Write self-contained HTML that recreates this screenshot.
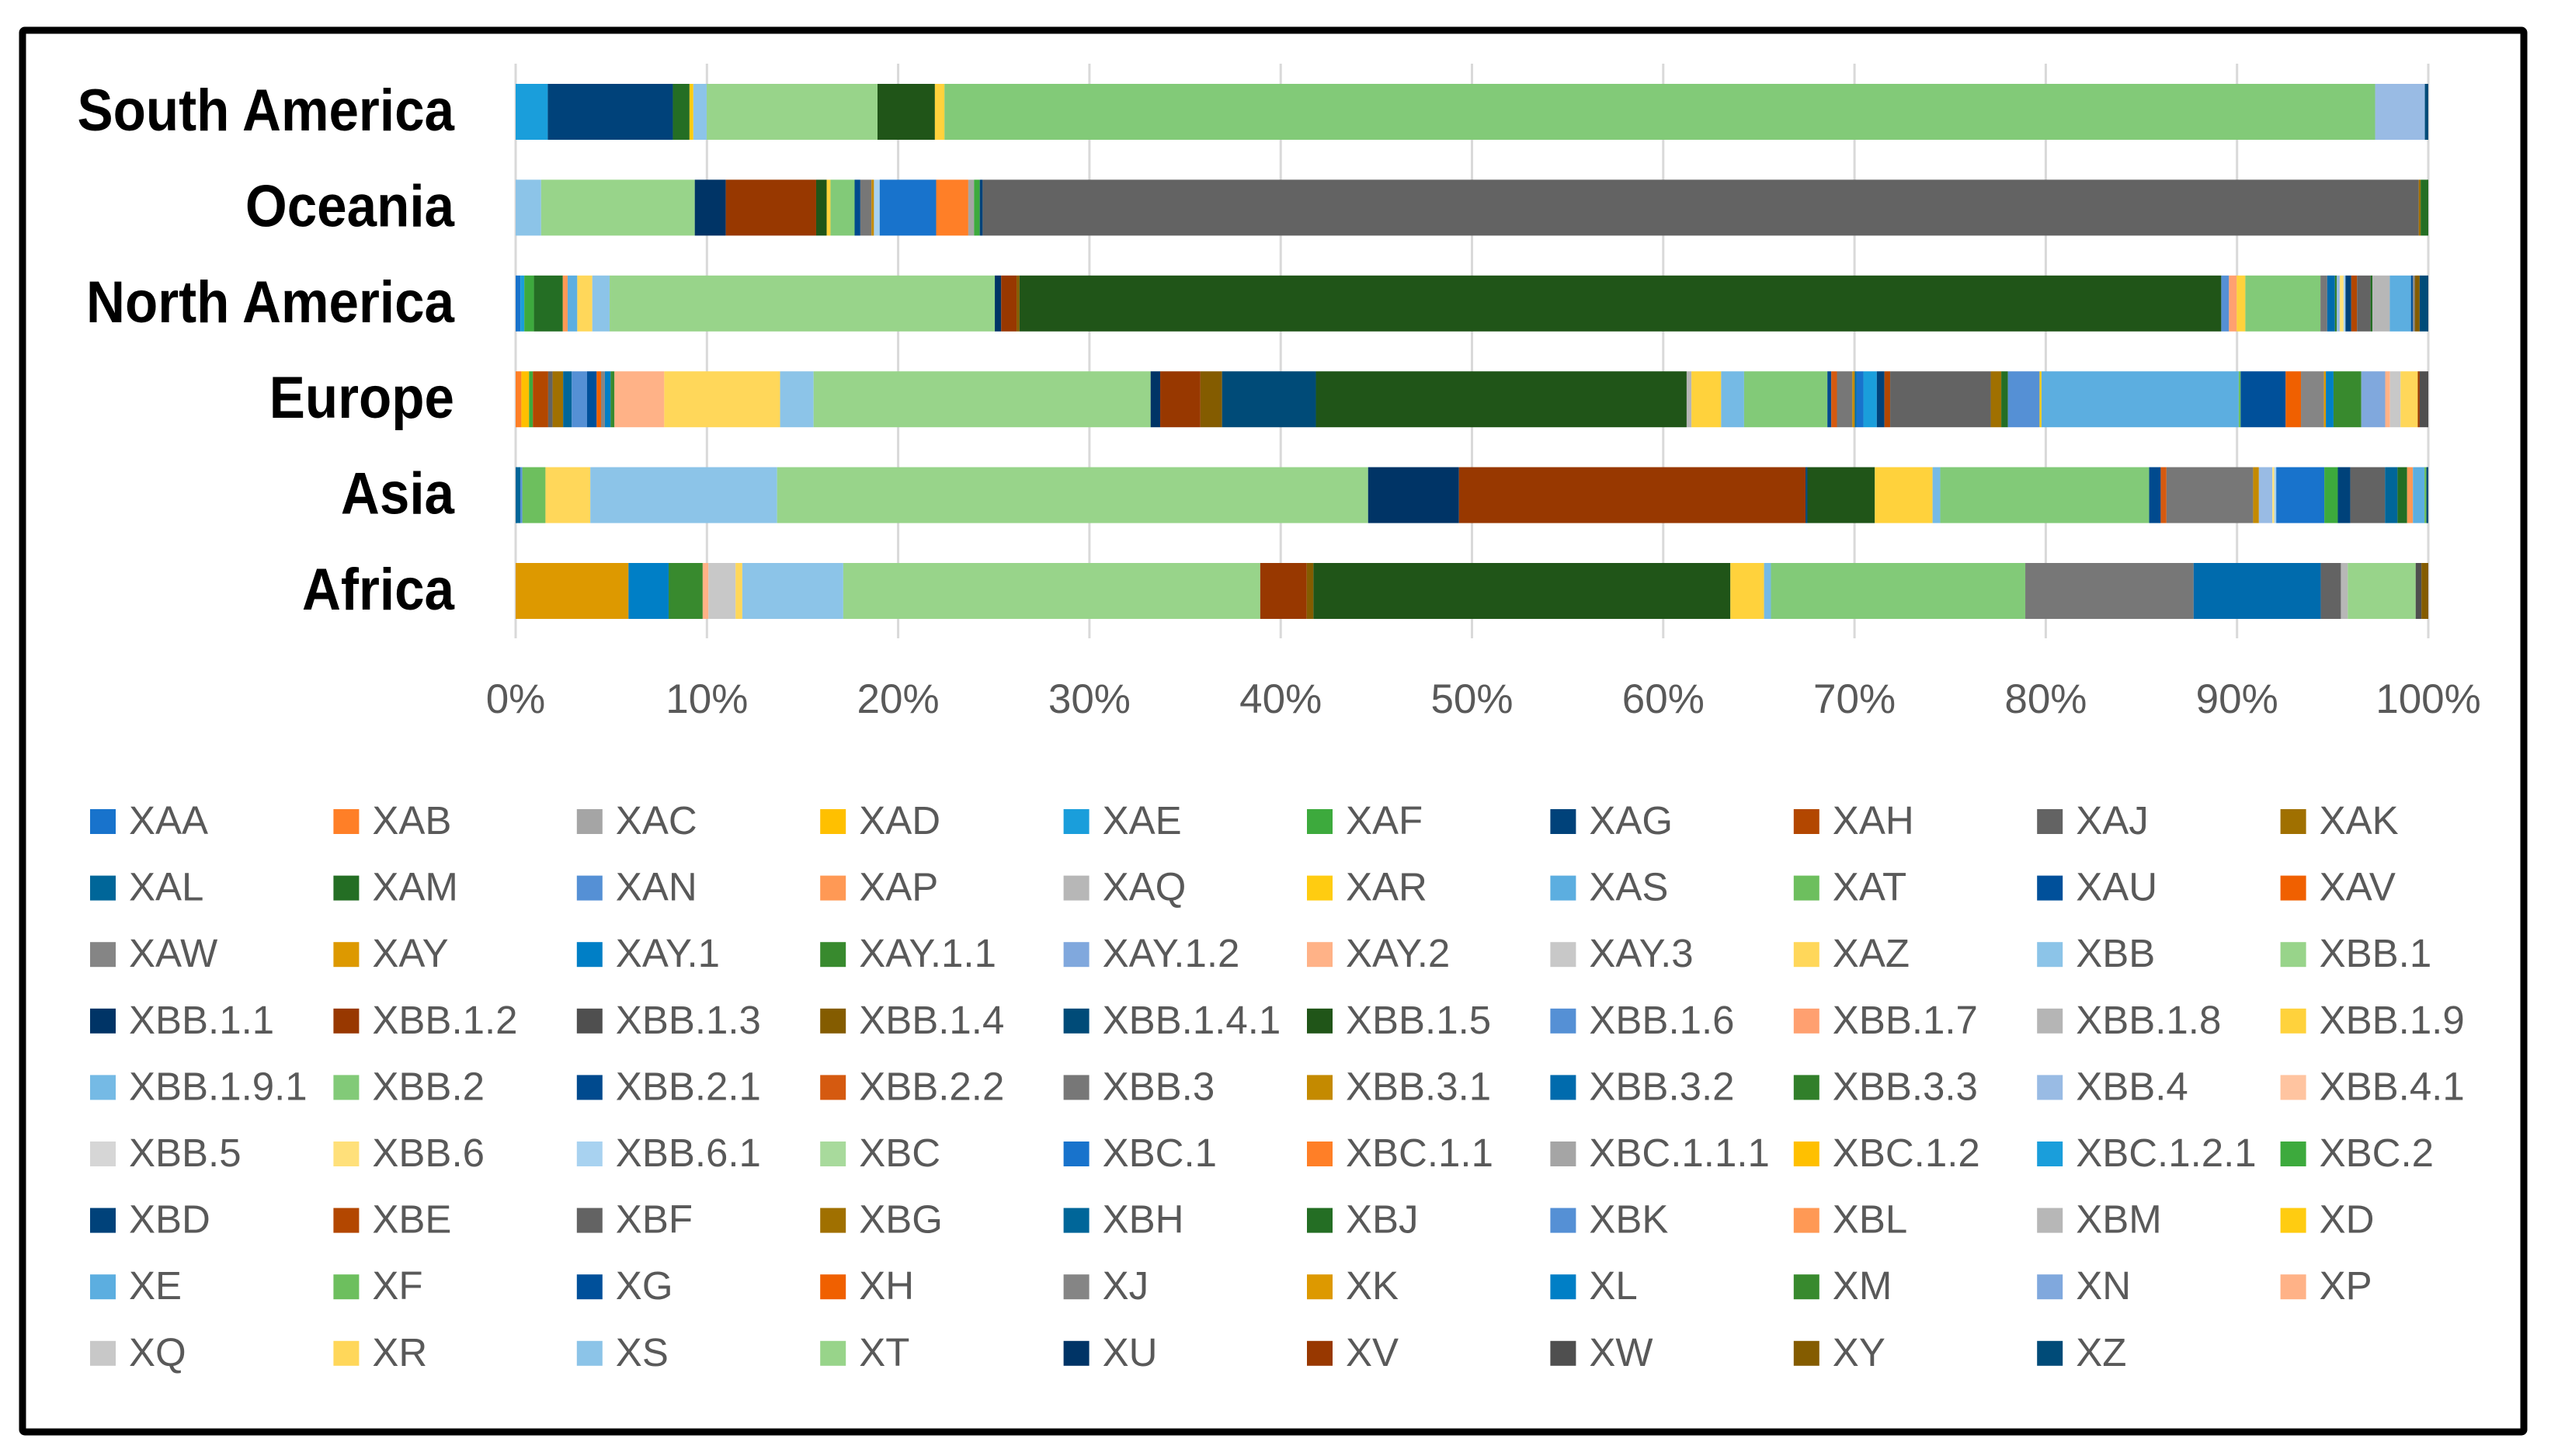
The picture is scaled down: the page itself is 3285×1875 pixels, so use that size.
<!DOCTYPE html>
<html><head><meta charset="utf-8"><style>
html,body{margin:0;padding:0;background:#fff;}
svg{display:block;}
</style></head><body>
<svg id="chart" width="3285" height="1875" viewBox="0 0 3285 1875" xmlns="http://www.w3.org/2000/svg" font-family="'Liberation Sans', sans-serif">
<rect x="0" y="0" width="3285" height="1875" fill="#fff"/>
<rect x="29" y="39" width="3221" height="1805" fill="none" stroke="#000" stroke-width="9" rx="3"/>
<g id="grid"></g>
<g id="bars"></g>
<g id="cats"></g>
<g id="ticks"></g>
<g id="legend"></g>
</svg>
<script>
const categories = ["South America","Oceania","North America","Europe","Asia","Africa"];
const seriesNames = ["XAA","XAB","XAC","XAD","XAE","XAF","XAG","XAH","XAJ","XAK","XAL","XAM","XAN","XAP","XAQ","XAR","XAS","XAT","XAU","XAV","XAW","XAY","XAY.1","XAY.1.1","XAY.1.2","XAY.2","XAY.3","XAZ","XBB","XBB.1","XBB.1.1","XBB.1.2","XBB.1.3","XBB.1.4","XBB.1.4.1","XBB.1.5","XBB.1.6","XBB.1.7","XBB.1.8","XBB.1.9","XBB.1.9.1","XBB.2","XBB.2.1","XBB.2.2","XBB.3","XBB.3.1","XBB.3.2","XBB.3.3","XBB.4","XBB.4.1","XBB.5","XBB.6","XBB.6.1","XBC","XBC.1","XBC.1.1","XBC.1.1.1","XBC.1.2","XBC.1.2.1","XBC.2","XBD","XBE","XBF","XBG","XBH","XBJ","XBK","XBL","XBM","XD","XE","XF","XG","XH","XJ","XK","XL","XM","XN","XP","XQ","XR","XS","XT","XU","XV","XW","XY","XZ"];
const tickLabels = ["0%","10%","20%","30%","40%","50%","60%","70%","80%","90%","100%"];
const southAmerica = [["XAE",1.68],["XAG",6.54],["XAM",0.87],["XAR",0.2],["XBB",0.7],["XBB.1",8.93],["XBB.1.5",3.0],["XBB.1.9",0.5],["XBB.2",74.8],["XBB.4",2.6],["XZ",0.18]];
const oceania = [["XBB",1.33],["XBB.1",8.03],["XBB.1.1",1.62],["XBB.1.2",4.72],["XBB.1.5",0.55],["XBB.1.9",0.2],["XBB.2",1.26],["XBB.2.1",0.3],["XBB.3",0.58],["XBB.3.1",0.13],["XBB.6.1",0.3],["XBC.1",2.95],["XBC.1.1",1.68],["XBC.1.1.1",0.3],["XBC.2",0.3],["XBD",0.15],["XBF",75.03],["XBG",0.1],["XBJ",0.4]];
const northAmerica = [["XAA",0.25],["XAE",0.2],["XAF",0.5],["XAM",1.5],["XAP",0.25],["XAS",0.5],["XAZ",0.78],["XBB",0.9],["XBB.1",20.0],["XBB.1.1",0.33],["XBB.1.2",0.8],["XBB.1.4",0.15],["XBB.1.5",62.4],["XBB.1.6",0.4],["XBB.1.7",0.4],["XBB.1.9",0.45],["XBB.2",3.9],["XBB.3",0.35],["XBB.3.2",0.4],["XBB.3.3",0.1],["XBB.4",0.15],["XBB.6",0.2],["XBB.6.1",0.1],["XBD",0.3],["XBE",0.3],["XBF",0.7],["XBJ",0.1],["XBM",0.9],["XE",1.1],["XG",0.1],["XJ",0.1],["XY",0.25],["XZ",0.45]];
const europe = [["XAB",0.3],["XAD",0.4],["XAF",0.2],["XAH",0.8],["XAJ",0.23],["XAK",0.55],["XAL",0.45],["XAN",0.8],["XAU",0.5],["XAV",0.23],["XAW",0.2],["XAY.1",0.3],["XAY.1.1",0.2],["XAY.2",2.6],["XAZ",6.05],["XBB",1.75],["XBB.1",17.6],["XBB.1.1",0.5],["XBB.1.2",2.1],["XBB.1.4",1.13],["XBB.1.4.1",4.9],["XBB.1.5",19.36],["XBB.1.8",0.25],["XBB.1.9",1.55],["XBB.1.9.1",1.2],["XBB.2",4.35],["XBB.2.1",0.2],["XBB.2.2",0.3],["XBB.3",0.8],["XBB.3.1",0.13],["XBB.3.2",0.1],["XBC.1",0.35],["XBC.1.2.1",0.7],["XBD",0.4],["XBE",0.3],["XBF",5.25],["XBG",0.55],["XBJ",0.35],["XBK",1.65],["XD",0.1],["XE",10.3],["XF",0.1],["XG",2.35],["XH",0.8],["XJ",1.2],["XK",0.1],["XL",0.4],["XM",1.45],["XN",1.25],["XP",0.25],["XQ",0.55],["XR",0.9],["XV",0.1],["XW",0.45]];
const asia = [["XAL",0.25],["XAN",0.1],["XAT",1.2],["XAZ",2.33],["XBB",9.7],["XBB.1",30.7],["XBB.1.1",4.72],["XBB.1.2",18.0],["XBB.1.4.1",0.1],["XBB.1.5",3.5],["XBB.1.9",3.0],["XBB.1.9.1",0.4],["XBB.2",10.85],["XBB.2.1",0.6],["XBB.2.2",0.3],["XBB.3",4.5],["XBB.3.1",0.3],["XBB.4",0.7],["XBB.6",0.1],["XBB.6.1",0.1],["XBC.1",2.5],["XBC.2",0.7],["XBD",0.65],["XBF",1.8],["XBH",0.65],["XBJ",0.5],["XBL",0.3],["XE",0.6],["XF",0.1],["XZ",0.1]];
const africa = [["XAY",5.9],["XAY.1",2.1],["XAY.1.1",1.78],["XAY.2",0.3],["XAY.3",1.42],["XAZ",0.35],["XBB",5.28],["XBB.1",21.8],["XBB.1.2",2.43],["XBB.1.4",0.35],["XBB.1.5",21.8],["XBB.1.9",1.76],["XBB.1.9.1",0.36],["XBB.2",13.3],["XBB.3",8.8],["XBB.3.2",6.65],["XBF",1.05],["XBM",0.36],["XT",3.55],["XW",0.3],["XY",0.36]];
const regionData = [southAmerica, oceania, northAmerica, europe, asia, africa];
const palette = ["#1873CC","#FF7F27","#A5A5A5","#FFC000","#1A9EDB","#3DAA3D","#00427A","#B34700","#636363","#A07000","#006699","#246E24","#5590D5","#FF9955","#B7B7B7","#FFCC11","#5CAEE0","#6DBF5E","#00509A","#F06000","#858585","#DD9900","#007FC6","#388A2E","#80A8DD","#FFB287","#C8C8C8","#FFD75A","#8CC4E8","#98D48A","#003466","#983800","#4F4F4F","#845C00","#004B78","#205518","#5590D5","#FFA070","#B5B5B5","#FFD23C","#75BAE5","#82CA78","#004A8E","#D55A10","#777777","#C48A00","#006BAD","#317F2A","#99BBE4","#FFC4A0","#D6D6D6","#FFE07A","#A8D2F0","#A8DA9C"];

const NS = "http://www.w3.org/2000/svg";
const X0 = 664, X1 = 3127, Y_TOP = 82, Y_BOT = 822, ROW0 = 144, PITCH = 123.4, BAR_H = 72;
const xScale = p => X0 + (X1 - X0) * p / 100;
const yScale = i => ROW0 + i * PITCH;
function mk(tag, attrs){ const e = document.createElementNS(NS, tag); for (const k in attrs) e.setAttribute(k, attrs[k]); return e; }

const grid = document.getElementById('grid');
tickLabels.forEach((t, i) => {
  const x = xScale(i * 10);
  const l = mk('line', {x1:x, x2:x, y1:Y_TOP, y2:Y_BOT, stroke:'#d9d9d9', 'stroke-width':3});
  
  
  grid.appendChild(l);
  const tx = mk('text', {x:x, y:918, 'text-anchor':'middle', 'font-size':53, fill:'#595959'});
  
  
  tx.textContent = t;
  document.getElementById('ticks').appendChild(tx);
});

const bars = document.getElementById('bars');
regionData.forEach((pairs, r) => {
  const vals = seriesNames.map(n => { const f = pairs.find(p => p[0] === n); return f ? f[1] : 0; });
  const total = vals.reduce((a, b) => a + b, 0);
  let acc = 0;
  const yc = yScale(r);
  vals.forEach((v, i) => {
    if (v <= 0) return;
    const p0 = acc / total * 100, p1 = (acc + v) / total * 100;
    acc += v;
    const rc = mk('rect', {x:xScale(p0), y:yc - BAR_H/2, width:Math.max(0.5, xScale(p1) - xScale(p0)), height:BAR_H, fill:palette[i % palette.length]});
    
    
    bars.appendChild(rc);
  });
  const lab = mk('text', {transform:`translate(585,${yc + 24}) scale(0.91,1)`, 'text-anchor':'end', 'font-size':76, 'font-weight':'bold', fill:'#000'});
  
  
  lab.textContent = categories[r];
  document.getElementById('cats').appendChild(lab);
});

const legend = document.getElementById('legend');
seriesNames.forEach((n, i) => {
  const c = i % 10, r = Math.floor(i / 10);
  const sx = 116 + c * 313.4, sy = 1042 + r * 85.6;
  const g = mk('g', {});
  
  
  const sw = mk('rect', {x:sx, y:sy, width:33, height:32, fill:palette[i % palette.length]});
  
  
  const t = mk('text', {x:sx + 50, y:sy + 32, 'font-size':51, fill:'#595959'});
  
  
  t.textContent = n;
  g.appendChild(sw); g.appendChild(t);
  legend.appendChild(g);
});
</script>
</body></html>
